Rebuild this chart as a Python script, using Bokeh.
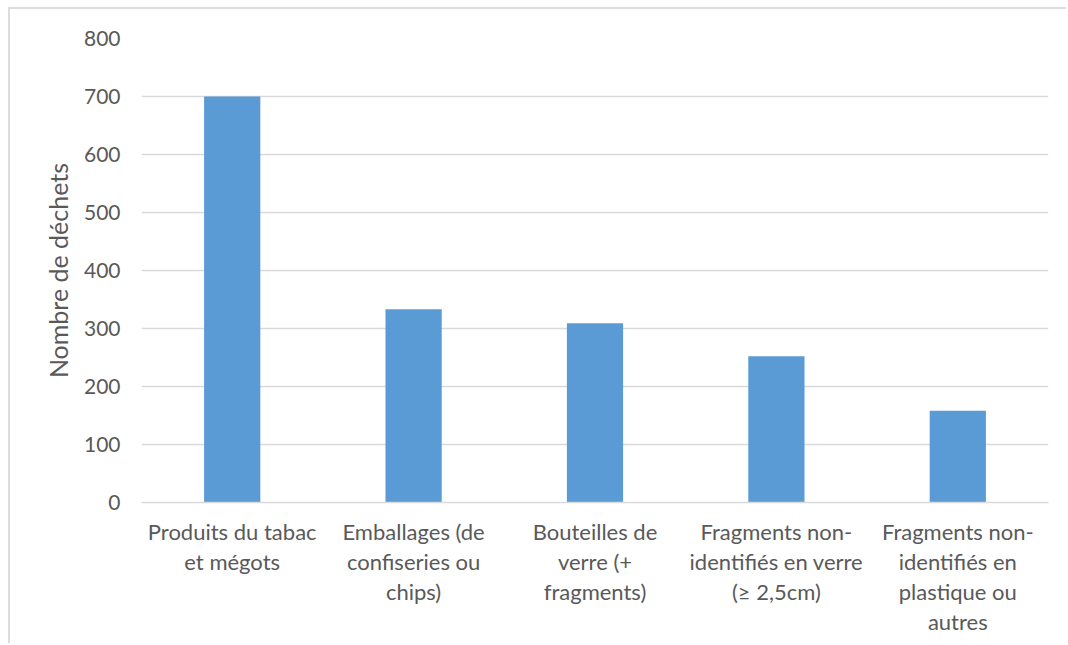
from bokeh.plotting import figure
from bokeh.models import ColumnDataSource, FactorRange, Range1d, SingleIntervalTicker
from bokeh.embed import file_html
from bokeh.resources import INLINE

categories = [
    "Produits du tabac\net mégots",
    "Emballages (de\nconfiseries ou\nchips)",
    "Bouteilles de\nverre (+\nfragments)",
    "Fragments non-\nidentifiés en verre\n(≥ 2,5cm)",
    "Fragments non-\nidentifiés en\nplastique ou\nautres",
]
values = [700, 333, 309, 252, 158]

FONT = "Lato"
TXT = "#595959"
GRID = "#d9d9d9"

src = ColumnDataSource(dict(cat=categories, val=values))

p = figure(
    x_range=FactorRange(*categories, range_padding=0),
    y_range=Range1d(0, 800),
    width=1058, height=636,
    output_backend="svg", toolbar_location=None,
    min_border_left=131, min_border_right=20, min_border_top=29, min_border_bottom=143,
)
p.vbar(x="cat", top="val", width=0.31, source=src, color="#5B9BD5", line_color=None)

p.outline_line_color = None
p.styles = {
    "margin-left": "8px", "margin-top": "7px",
    "border-left": "2px solid #dcdcdc", "border-top": "2px solid #dcdcdc",
}

p.yaxis.ticker = SingleIntervalTicker(interval=100)
p.yaxis.axis_line_color = None
p.yaxis.major_tick_line_color = None
p.yaxis.minor_tick_line_color = None
p.yaxis.major_label_text_font = FONT
p.yaxis.major_label_text_font_size = "21px"
p.yaxis.major_label_text_color = TXT
p.yaxis.major_label_standoff = 15
p.yaxis.axis_label = "Nombre de déchets"
p.yaxis.axis_label_text_font = FONT
p.yaxis.axis_label_text_font_size = "25px"
p.yaxis.axis_label_text_font_style = "normal"
p.yaxis.axis_label_text_color = TXT
p.yaxis.axis_label_standoff = 8

p.xaxis.axis_line_color = GRID
p.xaxis.axis_line_width = 1.5
p.xaxis.major_tick_line_color = None
p.xaxis.minor_tick_line_color = None
p.xaxis.major_label_text_font = FONT
p.xaxis.major_label_text_font_size = "22px"
p.xaxis.major_label_text_color = TXT
p.xaxis.major_label_standoff = 9
p.xaxis.major_label_text_line_height = 1.12

p.xgrid.grid_line_color = None
p.ygrid.grid_line_color = GRID
p.ygrid.grid_line_width = 1.5

open("out.html", "w").write(file_html(p, INLINE))
